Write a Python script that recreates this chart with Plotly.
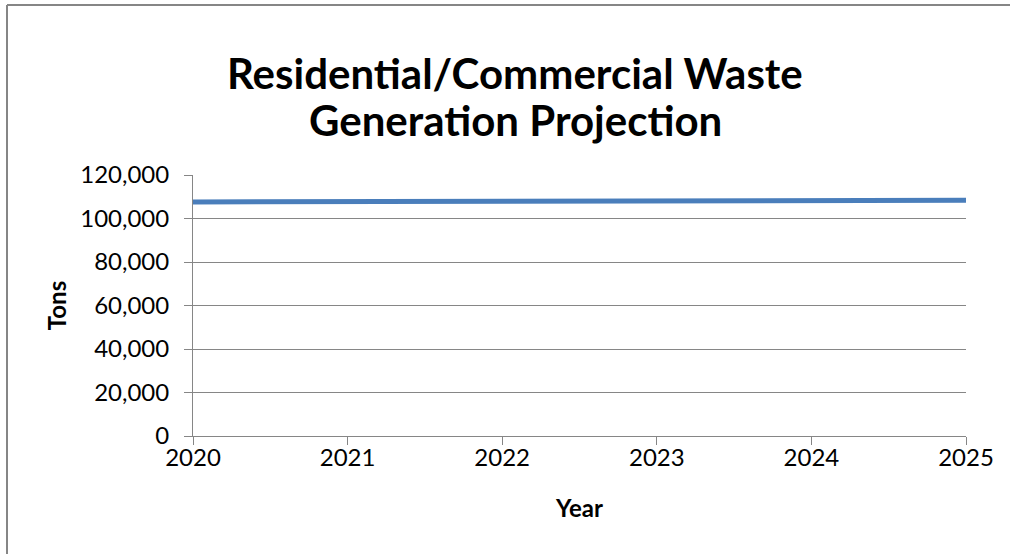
import plotly.graph_objects as go

# Annual projection of residential/commercial waste (tons)
years = [2020, 2021, 2022, 2023, 2024, 2025]
tons = [107600, 107750, 107900, 108000, 108150, 108350]
y_ticks = [0, 20000, 40000, 60000, 80000, 100000, 120000]
y_tick_labels = ["0", "20,000", "40,000", "60,000", "80,000", "100,000", "120,000"]
title_lines = ["Residential/Commercial Waste", "Generation Projection"]

W, H = 1010, 554
L, R, T, B = 193, 44, 175, 118
pw, ph = W - L - R, H - T - B

font_family = "Lato, 'Open Sans', sans-serif"
grid_color = "#868686"

fig = go.Figure()
fig.add_trace(go.Scatter(
    x=years, y=tons, mode="lines",
    line=dict(color="#4A7EBB", width=5),
    showlegend=False, hoverinfo="x+y",
))

fig.update_layout(
    width=W, height=H,
    margin=dict(l=L, r=R, t=T, b=B, pad=0),
    paper_bgcolor="white", plot_bgcolor="white",
    font=dict(family=font_family, color="black", size=24),
    xaxis=dict(
        range=[2020, 2025], tickvals=years, ticktext=[str(v) for v in years],
        showgrid=False, zeroline=False,
        showline=True, linecolor=grid_color, linewidth=1,
        ticks="outside", ticklen=8, tickcolor=grid_color,
        tickfont=dict(size=24), ticklabelstandoff=-8,
        title=dict(text="<b>Year</b>", font=dict(size=24), standoff=30),
    ),
    yaxis=dict(
        range=[0, 120000], tickvals=y_ticks, ticktext=y_tick_labels,
        showgrid=True, gridcolor=grid_color, gridwidth=1,
        zeroline=False,
        showline=True, linecolor=grid_color, linewidth=1,
        ticks="outside", ticklen=8, tickcolor=grid_color,
        tickfont=dict(size=24), ticklabelstandoff=10,
        title=dict(text="<b>Tons</b>", font=dict(size=24), standoff=6),
    ),
)

# Two-line bold title, placed line by line for tight spacing
for text, yc in zip(title_lines, [73, 120]):
    fig.add_annotation(
        text=f"<b>{text}</b>", showarrow=False,
        xref="paper", yref="paper",
        x=(515 - L) / pw, y=1 + (T - yc) / ph,
        xanchor="center", yanchor="middle",
        font=dict(size=42, family=font_family, color="black"),
    )

# Chart frame: left and top edges of the outer border
fx0 = (7 - L) / pw
fy1 = 1 + (T - 5) / ph
fig.add_shape(type="line", xref="paper", yref="paper",
              x0=fx0, x1=fx0, y0=-10, y1=fy1,
              line=dict(color=grid_color, width=2))
fig.add_shape(type="line", xref="paper", yref="paper",
              x0=fx0, x1=10, y0=fy1, y1=fy1,
              line=dict(color=grid_color, width=2))

fig.write_html("out.html")
